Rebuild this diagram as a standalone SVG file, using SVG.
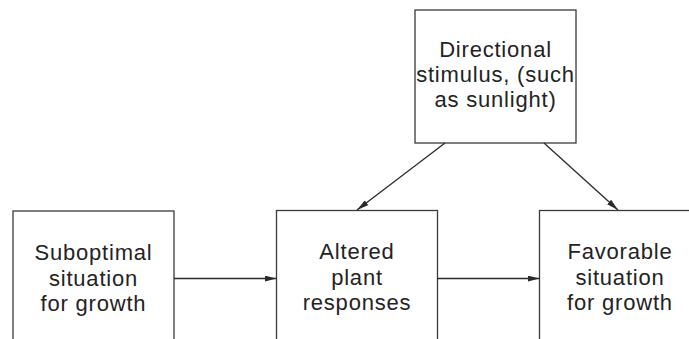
<svg xmlns="http://www.w3.org/2000/svg" width="689" height="339" viewBox="0 0 689 339">
  <style>
    .box { fill: #fff; stroke: #3a3a3a; stroke-width: 1.3; }
    .label { font-family: "Liberation Sans", Arial, sans-serif; font-size: 22px; letter-spacing: 0.8px; fill: #232323; text-anchor: middle; }
    .edge { stroke: #2a2a2a; stroke-width: 1.3; fill: none; marker-end: url(#head); }
  </style>
  <defs>
    <marker id="head" viewBox="0 0 12 6" refX="12" refY="3" markerWidth="12" markerHeight="6" markerUnits="userSpaceOnUse" orient="auto">
      <path d="M0,0 L12,3 L0,6 Z" fill="#2a2a2a"/>
    </marker>
  </defs>
  <rect width="689" height="339" fill="#fff"/>

  <g id="stimulus">
    <rect class="box" x="415" y="10" width="161" height="133"/>
    <text class="label" x="495.5" y="57">Directional</text>
    <text class="label" x="495.5" y="82">stimulus, (such</text>
    <text class="label" x="495.5" y="107">as sunlight)</text>
  </g>

  <g id="suboptimal">
    <rect class="box" x="13" y="211" width="161" height="140"/>
    <text class="label" x="93.5" y="260">Suboptimal</text>
    <text class="label" x="93.5" y="285.5">situation</text>
    <text class="label" x="93.5" y="311">for growth</text>
  </g>

  <g id="responses">
    <rect class="box" x="276.5" y="210.5" width="161" height="140"/>
    <text class="label" x="357" y="259">Altered</text>
    <text class="label" x="357" y="284.5">plant</text>
    <text class="label" x="357" y="310">responses</text>
  </g>

  <g id="favorable">
    <rect class="box" x="539.5" y="210.5" width="161" height="140"/>
    <text class="label" x="620" y="259">Favorable</text>
    <text class="label" x="620" y="284.5">situation</text>
    <text class="label" x="620" y="310">for growth</text>
  </g>

  <g id="connectors">
    <line class="edge" x1="174" y1="278.5" x2="276.5" y2="278.5"/>
    <line class="edge" x1="437.5" y1="278.5" x2="539.5" y2="278.5"/>
    <line class="edge" x1="445" y1="143" x2="357" y2="210"/>
    <line class="edge" x1="544" y1="143" x2="618" y2="210"/>
  </g>
</svg>
